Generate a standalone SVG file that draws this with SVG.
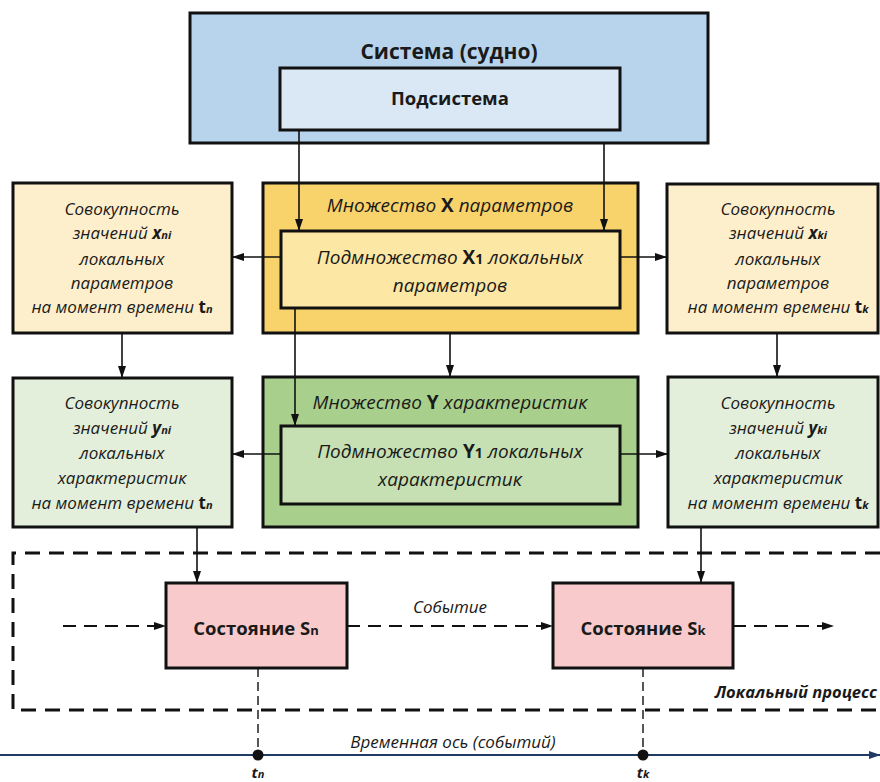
<svg xmlns="http://www.w3.org/2000/svg" width="880" height="782" viewBox="0 0 880 782">
<defs>
<marker id="ah" markerWidth="12" markerHeight="8" refX="11" refY="4" orient="auto" markerUnits="userSpaceOnUse">
<path d="M0,0 L12,4 L0,8 Z" fill="#111"/>
</marker>
<marker id="ahb" markerWidth="12" markerHeight="8" refX="11" refY="4" orient="auto" markerUnits="userSpaceOnUse">
<path d="M0,0 L12,4 L0,8 Z" fill="#1f3a63"/>
</marker>
<style>
.box{stroke:#111;stroke-width:3}
.t{font-family:"Open Sans","Noto Sans","Liberation Sans",sans-serif;fill:#1a1a1a;text-anchor:middle}
.it{font-style:italic;font-size:17px}
.ic{font-style:italic;font-size:19px}
.bd{font-weight:bold}
.con{stroke:#111;stroke-width:1.6;fill:none}
.dash{stroke:#111;stroke-width:2;fill:none;stroke-dasharray:13 8}
.frame{stroke:#111;stroke-width:3;fill:none;stroke-dasharray:15 9}
.vd{stroke:#111;stroke-width:1.4;fill:none;stroke-dasharray:9 5}
</style>
</defs>
<rect width="880" height="782" fill="#fff"/>

<g id="system">
<rect class="box" x="190" y="13" width="518" height="130" fill="#b8d3ec"/>
<text class="t bd" x="449" y="59" font-size="21">Система (судно)</text>
</g>
<g id="subsystem">
<rect class="box" x="280" y="68" width="340" height="62" fill="#dae7f5"/>
<text class="t bd" x="450" y="105" font-size="18.5">Подсистема</text>
</g>

<g id="setX">
<rect class="box" x="263" y="183" width="375" height="150" fill="#f8d26a"/>
<text class="t ic" x="450" y="212">Множество <tspan class="bd" font-style="normal">X</tspan> параметров</text>
</g>
<g id="subsetX1">
<rect class="box" x="281" y="231" width="339" height="77" fill="#fde7a4"/>
<text class="t ic" x="450" y="264">Подмножество <tspan class="bd" font-style="normal">X<tspan font-size="14">1</tspan></tspan> локальных</text>
<text class="t ic" x="450" y="292">параметров</text>
</g>

<g id="xn">
<rect class="box" x="13" y="183" width="219" height="150" fill="#fdefcb"/>
<text class="t it" x="122" y="215">Совокупность</text>
<text class="t it" x="122" y="239">значений <tspan class="bd">x<tspan font-size="11">ni</tspan></tspan></text>
<text class="t it" x="122" y="265">локальных</text>
<text class="t it" x="122" y="289">параметров</text>
<text class="t it" x="122" y="313">на момент времени <tspan class="bd" font-style="normal">t<tspan font-size="11" font-style="italic">n</tspan></tspan></text>
</g>
<g id="xk">
<rect class="box" x="667" y="184" width="211" height="149" fill="#fdefcb"/>
<text class="t it" x="778" y="215">Совокупность</text>
<text class="t it" x="778" y="239">значений <tspan class="bd">x<tspan font-size="11">ki</tspan></tspan></text>
<text class="t it" x="778" y="265">локальных</text>
<text class="t it" x="778" y="289">параметров</text>
<text class="t it" x="778" y="313">на момент времени <tspan class="bd" font-style="normal">t<tspan font-size="11" font-style="italic">k</tspan></tspan></text>
</g>

<g id="setY">
<rect class="box" x="263" y="377" width="375" height="150" fill="#a8d08c"/>
<text class="t ic" x="450" y="409">Множество <tspan class="bd" font-style="normal">Y</tspan> характеристик</text>
</g>
<g id="subsetY1">
<rect class="box" x="281" y="426" width="339" height="78" fill="#c6e0b3"/>
<text class="t ic" x="450" y="458">Подмножество <tspan class="bd" font-style="normal">Y<tspan font-size="14">1</tspan></tspan> локальных</text>
<text class="t ic" x="450" y="486">характеристик</text>
</g>

<g id="yn">
<rect class="box" x="13" y="378" width="219" height="149" fill="#e3efda"/>
<text class="t it" x="122" y="409">Совокупность</text>
<text class="t it" x="122" y="434">значений <tspan class="bd">y<tspan font-size="11">ni</tspan></tspan></text>
<text class="t it" x="122" y="459">локальных</text>
<text class="t it" x="122" y="484">характеристик</text>
<text class="t it" x="122" y="509">на момент времени <tspan class="bd" font-style="normal">t<tspan font-size="11" font-style="italic">n</tspan></tspan></text>
</g>
<g id="yk">
<rect class="box" x="668" y="377" width="210" height="150" fill="#e3efda"/>
<text class="t it" x="778" y="409">Совокупность</text>
<text class="t it" x="778" y="434">значений <tspan class="bd">y<tspan font-size="11">ki</tspan></tspan></text>
<text class="t it" x="778" y="459">локальных</text>
<text class="t it" x="778" y="484">характеристик</text>
<text class="t it" x="778" y="509">на момент времени <tspan class="bd" font-style="normal">t<tspan font-size="11" font-style="italic">k</tspan></tspan></text>
</g>

<g id="process">
<path class="frame" d="M880,553 H13 V710 H880"/>
<text class="t bd" x="877" y="698" font-size="16.5" font-style="italic" style="text-anchor:end">Локальный процесс</text>
</g>

<g id="sn">
<rect class="box" x="166" y="583" width="181" height="85" fill="#f8cacb"/>
<text class="t bd" x="256" y="635" font-size="18.5">Состояние S<tspan font-size="13">n</tspan></text>
</g>
<g id="sk">
<rect class="box" x="553" y="583" width="180" height="85" fill="#f8cacb"/>
<text class="t bd" x="643" y="635" font-size="18.5">Состояние S<tspan font-size="13">k</tspan></text>
</g>

<g id="axis">
<line x1="0" y1="755" x2="880" y2="755" stroke="#1f3a63" stroke-width="2" marker-end="url(#ahb)"/>
<circle cx="258" cy="755" r="5.5" fill="#111"/>
<circle cx="643" cy="755" r="5.5" fill="#111"/>
<text class="t it" x="453" y="748" font-size="15.5">Временная ось (событий)</text>
<text class="t bd" x="258" y="778" font-size="15" font-style="italic">t<tspan font-size="11">n</tspan></text>
<text class="t bd" x="643" y="778" font-size="15" font-style="italic">t<tspan font-size="11">k</tspan></text>
</g>

<g id="connectors">
<line class="con" x1="299" y1="130" x2="299" y2="230" marker-end="url(#ah)"/>
<line class="con" x1="604" y1="143" x2="604" y2="230" marker-end="url(#ah)"/>
<line class="con" x1="281" y1="257" x2="233" y2="257" marker-end="url(#ah)"/>
<line class="con" x1="620" y1="257" x2="666" y2="257" marker-end="url(#ah)"/>
<line class="con" x1="122" y1="333" x2="122" y2="377" marker-end="url(#ah)"/>
<line class="con" x1="777" y1="333" x2="777" y2="376" marker-end="url(#ah)"/>
<line class="con" x1="450" y1="333" x2="450" y2="376" marker-end="url(#ah)"/>
<line class="con" x1="295" y1="308" x2="295" y2="425" marker-end="url(#ah)"/>
<line class="con" x1="281" y1="454" x2="233" y2="454" marker-end="url(#ah)"/>
<line class="con" x1="620" y1="454" x2="667" y2="454" marker-end="url(#ah)"/>
<line class="con" x1="197" y1="527" x2="197" y2="582" marker-end="url(#ah)"/>
<line class="con" x1="701" y1="527" x2="701" y2="582" marker-end="url(#ah)"/>
<line class="dash" x1="63" y1="626" x2="165" y2="626" marker-end="url(#ah)"/>
<line class="dash" x1="347" y1="626" x2="552" y2="626" marker-end="url(#ah)"/>
<line class="dash" x1="733" y1="626" x2="833" y2="626" marker-end="url(#ah)"/>
<text class="t it" x="450" y="613" font-size="15.5">Событие</text>
<line class="vd" x1="258" y1="668" x2="258" y2="752"/>
<line class="vd" x1="643" y1="668" x2="643" y2="752"/>
</g>
</svg>
